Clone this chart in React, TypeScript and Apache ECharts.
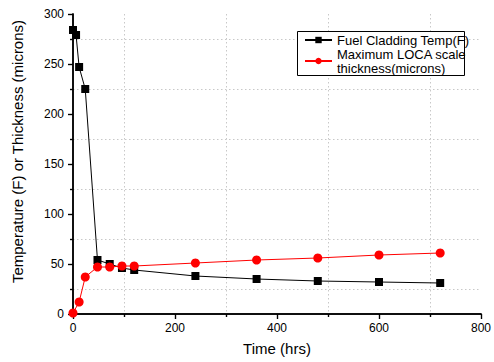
import React, { useEffect, useRef } from "react";
import * as echarts from "echarts";

const tempTimes = [0, 6, 12, 24, 48, 72, 96, 120, 240, 360, 480, 600, 720];
const tempValues = [284, 279, 247, 225, 54, 50, 46, 44, 38, 35, 33, 32, 31];
const scaleTimes = [0, 12, 24, 48, 72, 96, 120, 240, 360, 480, 600, 720];
const scaleValues = [1, 12, 37, 47, 47, 48, 48, 51, 54, 56, 59, 61];
const tempName = "Fuel Cladding Temp(F)";
const scaleName = "Maximum LOCA scale\nthickness(microns)";

const FONT = "Liberation Sans, Arial, sans-serif";

export default function App() {
  const ref = useRef<HTMLDivElement>(null);
  useEffect(() => {
    const chart = echarts.init(ref.current!, null, { renderer: "svg" });
    const axisLine = { show: true, lineStyle: { color: "#000", width: 1.5 } };
    const minorSplit = { show: true, lineStyle: { color: "#c8c8c8", type: [1.5, 2.5], width: 1 } };
    const tickStyle = { color: "#000", width: 1.2 };
    chart.setOption({
      animation: false,
      backgroundColor: "#fff",
      grid: { left: 73, right: 9, top: 14, bottom: 48, containLabel: false },
      graphic: [
        {
          type: "rect",
          z: 3,
          shape: { x: 297.5, y: 31.5, width: 167, height: 44 },
          style: { fill: "#fff", stroke: "#000", lineWidth: 1 },
        },
      ],
      legend: {
        left: 297,
        top: 31,
        z: 5,
        orient: "vertical",
        backgroundColor: "transparent",
        borderWidth: 0,
        padding: [2, 5, 1, 7],
        itemGap: -7,
        itemWidth: 27,
        itemHeight: 8,
        textStyle: { fontFamily: FONT, fontSize: 13, color: "#000", lineHeight: 14 },
        data: [
          { name: tempName },
          { name: scaleName, textStyle: { fontFamily: FONT, fontSize: 13, color: "#000", lineHeight: 14, padding: [14, 0, 0, 0] } },
        ],
      },
      xAxis: [
        {
          type: "value",
          min: 0,
          max: 800,
          interval: 200,
          position: "bottom",
          name: "Time (hrs)",
          nameLocation: "middle",
          nameGap: 27,
          nameTextStyle: { fontFamily: FONT, fontSize: 15, color: "#000" },
          axisLine,
          axisTick: { show: true, inside: false, length: 5, lineStyle: tickStyle },
          minorTick: { show: true, splitNumber: 2, length: 3, lineStyle: tickStyle },
          axisLabel: { fontFamily: FONT, fontSize: 12, color: "#000", margin: 8 },
          splitLine: { show: false },
          minorSplitLine: minorSplit,
        },
        {
          type: "value",
          min: 0,
          max: 800,
          interval: 200,
          position: "top",
          axisLine,
          axisTick: { show: true, inside: true, length: 5, lineStyle: tickStyle },
          minorTick: { show: true, splitNumber: 2, length: 3, lineStyle: tickStyle },
          axisLabel: { show: false },
          splitLine: { show: false },
        },
      ],
      yAxis: [
        {
          type: "value",
          min: 0,
          max: 300,
          interval: 50,
          position: "left",
          name: "Temperature (F) or Thickness (microns)",
          nameLocation: "middle",
          nameGap: 48,
          nameTextStyle: { fontFamily: FONT, fontSize: 15, color: "#000", padding: [0, 0, 0, 25] },
          axisLine,
          axisTick: { show: true, inside: false, length: 5, lineStyle: tickStyle },
          minorTick: { show: true, splitNumber: 2, length: 3, lineStyle: tickStyle },
          axisLabel: { fontFamily: FONT, fontSize: 12, color: "#000", margin: 9 },
          splitLine: { show: false },
          minorSplitLine: minorSplit,
        },
        {
          type: "value",
          min: 0,
          max: 300,
          interval: 50,
          position: "right",
          axisLine,
          axisTick: { show: true, inside: true, length: 5, lineStyle: tickStyle },
          minorTick: { show: true, splitNumber: 2, length: 3, lineStyle: tickStyle },
          axisLabel: { show: false },
          splitLine: { show: false },
        },
      ],
      series: [
        {
          name: tempName,
          type: "line",
          xAxisIndex: 0,
          yAxisIndex: 0,
          data: tempTimes.map((t, i) => [t, tempValues[i]]),
          symbol: "rect",
          symbolSize: 8,
          showAllSymbol: true,
          lineStyle: { color: "#000", width: 1 },
          itemStyle: { color: "#000" },
          z: 3,
        },
        {
          name: scaleName,
          type: "line",
          xAxisIndex: 0,
          yAxisIndex: 0,
          data: scaleTimes.map((t, i) => [t, scaleValues[i]]),
          symbol: "circle",
          symbolSize: 9,
          showAllSymbol: true,
          lineStyle: { color: "#ff0000", width: 1 },
          itemStyle: { color: "#ff0000" },
          z: 4,
        },
      ],
    });
    return () => chart.dispose();
  }, []);
  return <div ref={ref} style={{ width: 494, height: 362, position: "absolute", left: 0, top: 0 }} />;
}
